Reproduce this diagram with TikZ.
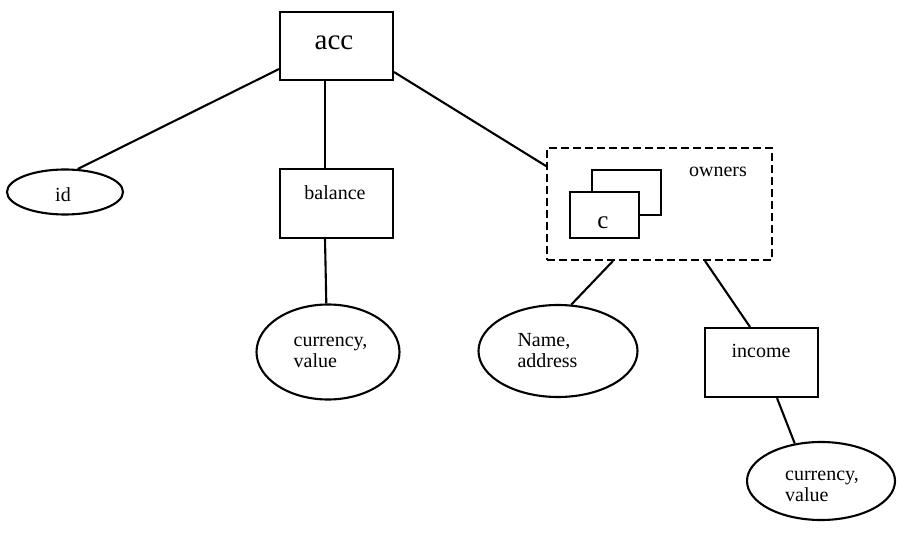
\documentclass[tikz,border=0pt]{standalone}
\usepackage{fontspec}
\setmainfont{Liberation Serif}
\usetikzlibrary{shapes.geometric}
\begin{document}
\begin{tikzpicture}[x=1pt, y=-1pt, line width=2.1pt,
  box/.style={draw, rectangle, minimum width=113pt, minimum height=69pt, inner sep=0pt},
  attr/.style={draw, ellipse, inner sep=0pt},
  lbl/.style={inner sep=0pt, font=\fontsize{20}{21}\selectfont},
  multi/.style={lbl, align=left},
  group/.style={draw, line width=1.9pt, dash pattern=on 8pt off 4pt, minimum width=225pt, minimum height=112pt, inner sep=0pt},
  card/.style={draw, fill=white, minimum width=69pt, minimum height=45pt, inner sep=0pt},
  link/.style={line width=2.1pt}]
\useasboundingbox (0,0) rectangle (899,534);

% entity boxes
\node[box, minimum height=68pt] (acc) at (336.5,46) {};
\node[lbl, font=\fontsize{29}{30}\selectfont] (accT) at (334,43) {acc};
\node[box] (bal) at (336.5,203.5) {};
\node[lbl] (balT) at (335,193) {balance};
\node[box] (inc) at (761.5,362.5) {};
\node[lbl] (incT) at (761,351) {income};

% collection of owners
\node[group] (own) at (659.5,204) {};
\node[lbl] (ownT) at (718,172) {owners};
\node[card] (cBack) at (626.5,192.5) {};
\node[card, minimum height=46pt] (cFront) at (604.5,215) {};
\node[lbl, font=\fontsize{25}{26}\selectfont] (cT) at (603,223) {c};

% attributes
\node[attr, minimum width=116pt, minimum height=45pt] (idE) at (65,192) {};
\node[lbl] (idT) at (63,195) {id};
\node[attr, minimum width=143pt, minimum height=95pt] (balE) at (328,352) {};
\node[multi] (balET) at (330.5,352.5) {currency,\\value};
\node[attr, minimum width=159pt, minimum height=92pt] (nameE) at (558,351) {};
\node[multi] (nameET) at (547.5,351) {Name,\\address};
\node[attr, minimum width=148pt, minimum height=78pt] (incE) at (821,481) {};
\node[multi] (incET) at (822,486) {currency,\\value};

% connectors
\draw[link] ([yshift=12pt]acc.south west) -- (idE.61);
\draw[link] ([xshift=-11.5pt]acc.south) -- ([xshift=-11.5pt]bal.north);
\draw[link] ([yshift=9pt]acc.south east) -- ([yshift=-19pt]own.north west);
\draw[link] ([xshift=-11.5pt]bal.south) -- (balE.92);
\draw[link] ([xshift=-46.5pt]own.south) -- (nameE.74);
\draw[link] ([xshift=45.5pt]own.south) -- ([xshift=-11.5pt]inc.north);
\draw[link] ([xshift=15.5pt]inc.south) -- (incE.125);
\end{tikzpicture}
\end{document}
